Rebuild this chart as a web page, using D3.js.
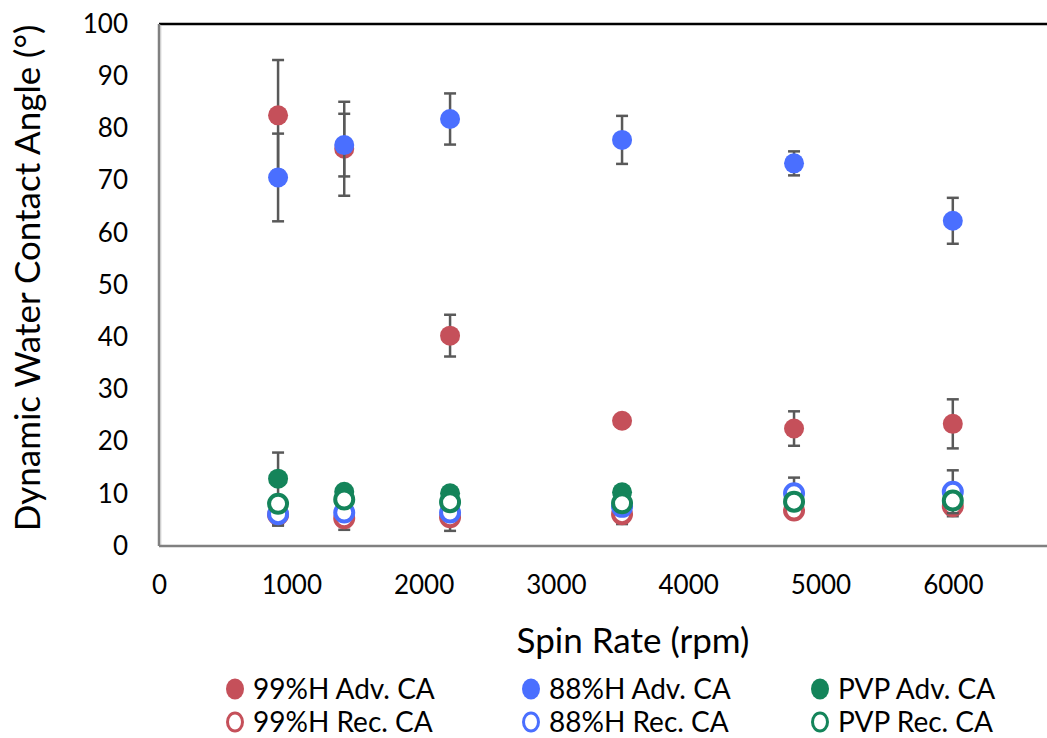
<!DOCTYPE html>
<html>
<head>
<meta charset="utf-8">
<script src="https://cdn.jsdelivr.net/npm/d3@7"></script>
<style>
  body { margin: 0; background: #fff; }
  svg text { font-family: Lato, "Noto Sans", sans-serif; fill: #000; }
</style>
</head>
<body>
<script>
// data
var rpm = [900, 1400, 2200, 3500, 4800, 6000];

var adv99 = [82.5, 76.1, 40.3, 24.0, 22.5, 23.4];
var adv99Err = [10.6, 9.0, 4.0, 1.2, 3.3, 4.7];
var adv88 = [70.6, 76.8, 81.8, 77.8, 73.3, 62.3];
var adv88Err = [8.4, 6.0, 4.9, 4.6, 2.3, 4.4];
var advPVP = [12.9, 10.4, 10.1, 10.3, 9.2, 9.0];
var advPVPErr = [5.0, 1.0, 1.0, 1.0, 1.0, 1.0];
var rec99 = [6.0, 5.3, 5.5, 6.1, 6.8, 7.6];
var rec99Err = [2.0, 2.2, 2.6, 1.9, 1.0, 1.9];
var rec88 = [6.1, 6.4, 6.4, 7.5, 10.1, 10.4];
var rec88Err = [2.2, 1.0, 1.0, 1.0, 3.0, 4.1];
var recPVP = [8.1, 8.9, 8.4, 8.2, 8.5, 8.7];
var recPVPErr = [1.0, 1.0, 1.0, 1.0, 1.0, 1.0];

var xTicks = [0, 1000, 2000, 3000, 4000, 5000, 6000];
var yTicks = [0, 10, 20, 30, 40, 50, 60, 70, 80, 90, 100];

var red = "#c5505a", blue = "#4a6fff", green = "#14845a";

var series = [
  {name: "99%H Adv. CA", y: adv99, err: adv99Err, color: red, open: false},
  {name: "88%H Adv. CA", y: adv88, err: adv88Err, color: blue, open: false},
  {name: "PVP Adv. CA", y: advPVP, err: advPVPErr, color: green, open: false},
  {name: "99%H Rec. CA", y: rec99, err: rec99Err, color: red, open: true},
  {name: "88%H Rec. CA", y: rec88, err: rec88Err, color: blue, open: true},
  {name: "PVP Rec. CA", y: recPVP, err: recPVPErr, color: green, open: true}
];

var W = 1047, H = 738;
var plotL = 159, plotT = 24, plotB = 546;

var svg = d3.select("body").append("svg")
  .attr("width", W).attr("height", H);

var x = d3.scaleLinear().domain([0, 7000]).range([plotL, plotL + 7 * 132.3]);
var y = d3.scaleLinear().domain([0, 100]).range([plotB, plotT]);

// axes (labels only)
var yAxis = svg.append("g")
  .attr("transform", "translate(" + plotL + ",0)")
  .call(d3.axisLeft(y).tickValues(yTicks).tickSize(0).tickPadding(31));
var xAxis = svg.append("g")
  .attr("transform", "translate(0," + plotB + ")")
  .call(d3.axisBottom(x).tickValues(xTicks).tickSize(0).tickPadding(30).tickFormat(d3.format("d")));
[yAxis, xAxis].forEach(function(a) {
  a.select(".domain").remove();
  a.selectAll("text").style("font-size", "26px").attr("fill", "#000");
});

// plot frame
svg.append("line").attr("x1", plotL).attr("x2", W).attr("y1", plotT).attr("y2", plotT)
  .attr("stroke", "#000").attr("stroke-width", 2.5);
svg.append("line").attr("x1", plotL).attr("x2", plotL).attr("y1", plotT).attr("y2", plotB)
  .attr("stroke", "#808080").attr("stroke-width", 2.5);
svg.append("line").attr("x1", plotL + 1.8).attr("x2", plotL + 1.8).attr("y1", plotT + 1).attr("y2", plotB - 1)
  .attr("stroke", "#c8c8c8").attr("stroke-width", 1);
svg.append("line").attr("x1", plotL).attr("x2", W).attr("y1", plotB).attr("y2", plotB)
  .attr("stroke", "#808080").attr("stroke-width", 2.5);

// series: error bars then markers
var capW = 6;
series.forEach(function(s) {
  var pts = rpm.map(function(r, i) { return {x: r, y: s.y[i], e: s.err[i]}; });
  var g = svg.append("g");
  var eb = g.selectAll(".eb").data(pts).enter().append("g")
    .attr("stroke", "#595959").attr("stroke-width", 2.5);
  eb.append("line")
    .attr("x1", function(d) { return x(d.x); }).attr("x2", function(d) { return x(d.x); })
    .attr("y1", function(d) { return y(d.y - d.e); }).attr("y2", function(d) { return y(d.y + d.e); });
  [-1, 1].forEach(function(sign) {
    eb.append("line")
      .attr("x1", function(d) { return x(d.x) - capW; }).attr("x2", function(d) { return x(d.x) + capW; })
      .attr("y1", function(d) { return y(d.y + sign * d.e); }).attr("y2", function(d) { return y(d.y + sign * d.e); });
  });
  g.selectAll("circle").data(pts).enter().append("circle")
    .attr("cx", function(d) { return x(d.x); })
    .attr("cy", function(d) { return y(d.y); })
    .attr("r", s.open ? 9 : 10)
    .attr("fill", s.open ? "#fff" : s.color)
    .attr("stroke", s.open ? s.color : "none")
    .attr("stroke-width", 4);
});

// axis titles
svg.append("text")
  .attr("transform", "translate(40,278) rotate(-90)")
  .attr("text-anchor", "middle")
  .style("font-size", "35px")
  .text("Dynamic Water Contact Angle (°)");
svg.append("text")
  .attr("x", 633).attr("y", 653)
  .attr("text-anchor", "middle")
  .style("font-size", "35px")
  .text("Spin Rate (rpm)");

// legend
var legX = [235, 531, 820], legY = [689, 722];
series.forEach(function(s, i) {
  var cx = legX[i % 3], cy = legY[Math.floor(i / 3)];
  var item = svg.append("g");
  item.append("ellipse")
    .attr("cx", cx).attr("cy", cy)
    .attr("rx", s.open ? 7.5 : 9).attr("ry", s.open ? 9 : 10.5)
    .attr("fill", s.open ? "#fff" : s.color)
    .attr("stroke", s.open ? s.color : "none")
    .attr("stroke-width", 3);
  item.append("text")
    .attr("x", cx + 18).attr("y", cy + 10)
    .style("font-size", "28px")
    .text(s.name);
});
</script>
</body>
</html>
